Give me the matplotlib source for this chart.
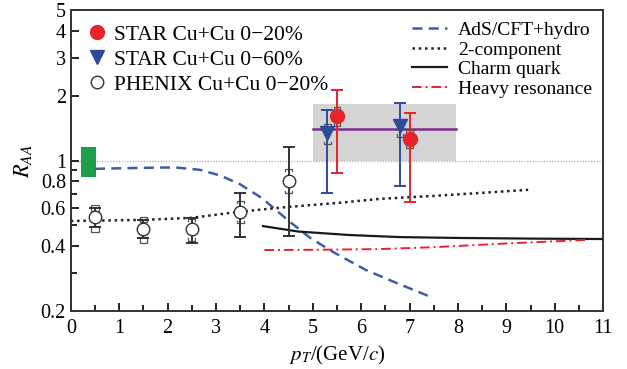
import matplotlib
matplotlib.use("Agg")
import matplotlib.pyplot as plt
from matplotlib.lines import Line2D
from matplotlib.patches import Rectangle
from matplotlib.ticker import FixedLocator, NullFormatter

plt.rcParams['font.family'] = ['Liberation Serif', 'DejaVu Serif']
plt.rcParams['mathtext.fontset'] = 'stix'

# PHENIX Cu+Cu 0-20%
phx_pt = [0.5, 1.5, 2.5, 3.5, 4.5]
phx_r = [0.546, 0.483, 0.48, 0.576, 0.805]
phx_stat_hi = [0.60, 0.53, 0.543, 0.705, 1.16]
phx_stat_lo = [0.49, 0.437, 0.416, 0.443, 0.446]
phx_sys_hi = [0.62, 0.548, 0.535, 0.65, 0.913]
phx_sys_lo = [0.466, 0.416, 0.425, 0.513, 0.705]

# STAR Cu+Cu 0-20%
s20_pt = [5.5, 7.0]
s20_r = [1.61, 1.26]
s20_stat_hi = [2.13, 1.67]
s20_stat_lo = [0.873, 0.644]
s20_sys_hi = [1.78, 1.39]
s20_sys_lo = [1.45, 1.14]

# STAR Cu+Cu 0-60%
s60_pt = [5.3, 6.8]
s60_r = [1.34, 1.44]
s60_stat_hi = [1.72, 1.85]
s60_stat_lo = [0.71, 0.765]
s60_sys_hi = [1.47, 1.52]
s60_sys_lo = [1.19, 1.29]

# model curves
ads_pt = [0.5, 1.0, 1.5, 2.15, 2.67, 3.1, 3.5, 3.9, 4.05, 4.5, 4.94, 5.42, 6.1, 6.73, 7.45]
ads_r = [0.915, 0.92, 0.925, 0.929, 0.905, 0.85, 0.775, 0.68, 0.64, 0.525, 0.438, 0.376, 0.31, 0.27, 0.232]
two_pt = [0.0, 1.5, 2.5, 3.5, 4.5, 5.5, 6.4, 7.5, 8.5, 9.45]
two_r = [0.524, 0.53, 0.542, 0.579, 0.609, 0.635, 0.664, 0.685, 0.708, 0.731]
charm_pt = [3.97, 4.7, 5.75, 6.8, 8.0, 9.5, 11.0]
charm_r = [0.496, 0.468, 0.451, 0.441, 0.437, 0.434, 0.432]
heavy_pt = [4.0, 5.0, 6.4, 7.5, 9.1, 10.65]
heavy_r = [0.384, 0.385, 0.388, 0.396, 0.413, 0.428]

# band / normalisation box
band_pt = [5.0, 7.95]
band_r = [1.0, 1.82]
band_mean = 1.40
norm_pt = [0.22, 0.51]
norm_r = [0.84, 1.15]

red = "#E8232B"
blue = "#2E4B9B"
dblue = "#3E5CAA"

fig = plt.figure(figsize=(6.27, 3.69), dpi=100)
ax = fig.add_axes([0.113, 0.157, 0.849, 0.816])
ax.set_yscale('log')
ax.set_xlim(0, 11)
ax.set_ylim(0.2, 5)

ax.add_patch(Rectangle((band_pt[0], band_r[0]), band_pt[1] - band_pt[0], band_r[1] - band_r[0],
                       facecolor="#D4D4D4", edgecolor="none", zorder=1))
ax.plot(band_pt, [band_mean, band_mean], color="#7A2E8E", lw=1.8, zorder=2)
ax.add_patch(Rectangle((norm_pt[0], norm_r[0]), norm_pt[1] - norm_pt[0], norm_r[1] - norm_r[0],
                       facecolor="#1E9E4A", edgecolor="none", zorder=3))
ax.axhline(1.0, color="#BBBBBB", lw=1, ls=(0, (1, 1)), zorder=1)

ax.plot(ads_pt, ads_r, color=dblue, ls=(0, (4, 2.5)), lw=1.8, zorder=4)
ax.plot(two_pt, two_r, color="#222222", ls=(0, (1, 1.5)), lw=1.8, zorder=4)
ax.plot(charm_pt, charm_r, color="#1A1A1A", lw=1.6, zorder=4)
ax.plot(heavy_pt, heavy_r, color=red, ls=(0, (5, 2, 1, 2)), lw=1.4, zorder=4)


def brackets(x, hi, lo, color, w=0.07):
    for xi, h, l in zip(x, hi, lo):
        ax.plot([xi - w, xi - w, xi + w, xi + w], [h / 1.025, h, h, h / 1.025], color=color, lw=0.9, zorder=5)
        ax.plot([xi - w, xi - w, xi + w, xi + w], [l * 1.025, l, l, l * 1.025], color=color, lw=0.9, zorder=5)


def errs(x, y, hi, lo, color, marker, mfc, ms):
    yerr = [[yi - l for yi, l in zip(y, lo)], [h - yi for yi, h in zip(y, hi)]]
    ax.errorbar(x, y, yerr=yerr, fmt=marker, color=color, mfc=mfc, mec=color, ms=ms,
                capsize=4, elinewidth=1.4, capthick=1.4, zorder=6)


errs(phx_pt, phx_r, phx_stat_hi, phx_stat_lo, "#333333", 'o', 'white', 9)
brackets(phx_pt[2:], phx_sys_hi[2:], phx_sys_lo[2:], "#555555")
for xi, h, l in zip(phx_pt[:2], phx_sys_hi[:2], phx_sys_lo[:2]):
    ax.add_patch(Rectangle((xi - 0.08, h / 1.06), 0.16, h - h / 1.06, fill=False, ec="#555555", lw=0.9, zorder=5))
    ax.add_patch(Rectangle((xi - 0.08, l), 0.16, l * 0.06, fill=False, ec="#555555", lw=0.9, zorder=5))

errs(s60_pt, s60_r, s60_stat_hi, s60_stat_lo, blue, 'v', blue, 10)
brackets(s60_pt, s60_sys_hi, s60_sys_lo, "#555555")
errs(s20_pt, s20_r, s20_stat_hi, s20_stat_lo, red, 'o', red, 10)
brackets(s20_pt, s20_sys_hi, s20_sys_lo, "#555555")

# axes style
ax.yaxis.set_major_locator(FixedLocator([0.2, 0.4, 0.6, 0.8, 1, 2, 3, 4, 5]))
ax.yaxis.set_minor_locator(FixedLocator([0.3, 0.5, 0.7, 0.9]))
ax.set_yticklabels(['0.2', '0.4', '0.6', '0.8', '1', '2', '3', '4', '5'])
ax.yaxis.set_minor_formatter(NullFormatter())
ax.set_xticks(range(0, 12))
ax.set_xticks([i + 0.5 for i in range(11)], minor=True)
ax.tick_params(which='both', direction='in', labelsize=14.5, width=1.2)
ax.tick_params(which='major', length=6)
ax.tick_params(which='minor', length=4)
ax.tick_params(axis='x', pad=6)
for s in ax.spines.values():
    s.set_linewidth(1.4)
    s.set_color("#333333")

ax.set_ylabel(r'$R_{AA}$', fontsize=16, labelpad=5)
ax.set_xlabel(r'$p_T$/(GeV/$c$)', fontsize=15, labelpad=4)

h1 = [Line2D([], [], ls='none', marker='o', color=red, ms=10),
      Line2D([], [], ls='none', marker='v', color=blue, ms=10),
      Line2D([], [], ls='none', marker='o', mfc='white', mec='#333333', ms=9)]
leg1 = ax.legend(h1, ['STAR Cu+Cu 0\u221220%', 'STAR Cu+Cu 0\u221260%', 'PHENIX Cu+Cu 0\u221220%'],
                 loc='upper left', bbox_to_anchor=(-0.012, 1.015), frameon=False, fontsize=15.5,
                 handletextpad=0.2, labelspacing=0.22, handlelength=1.2)
ax.add_artist(leg1)

h2 = [Line2D([], [], color=dblue, ls=(0, (4, 2.5)), lw=1.8),
      Line2D([], [], color="#222222", ls=(0, (1, 1.5)), lw=1.8),
      Line2D([], [], color="#1A1A1A", lw=1.6),
      Line2D([], [], color=red, ls=(0, (5, 2, 1, 2)), lw=1.4)]
ax.legend(h2, ['AdS/CFT+hydro', '2-component', 'Charm quark', 'Heavy resonance'],
          loc='upper right', bbox_to_anchor=(1.012, 1.02), frameon=False, fontsize=14,
          handlelength=1.8, handletextpad=0.55, labelspacing=0.1)

fig.savefig("out.png", dpi=100)
